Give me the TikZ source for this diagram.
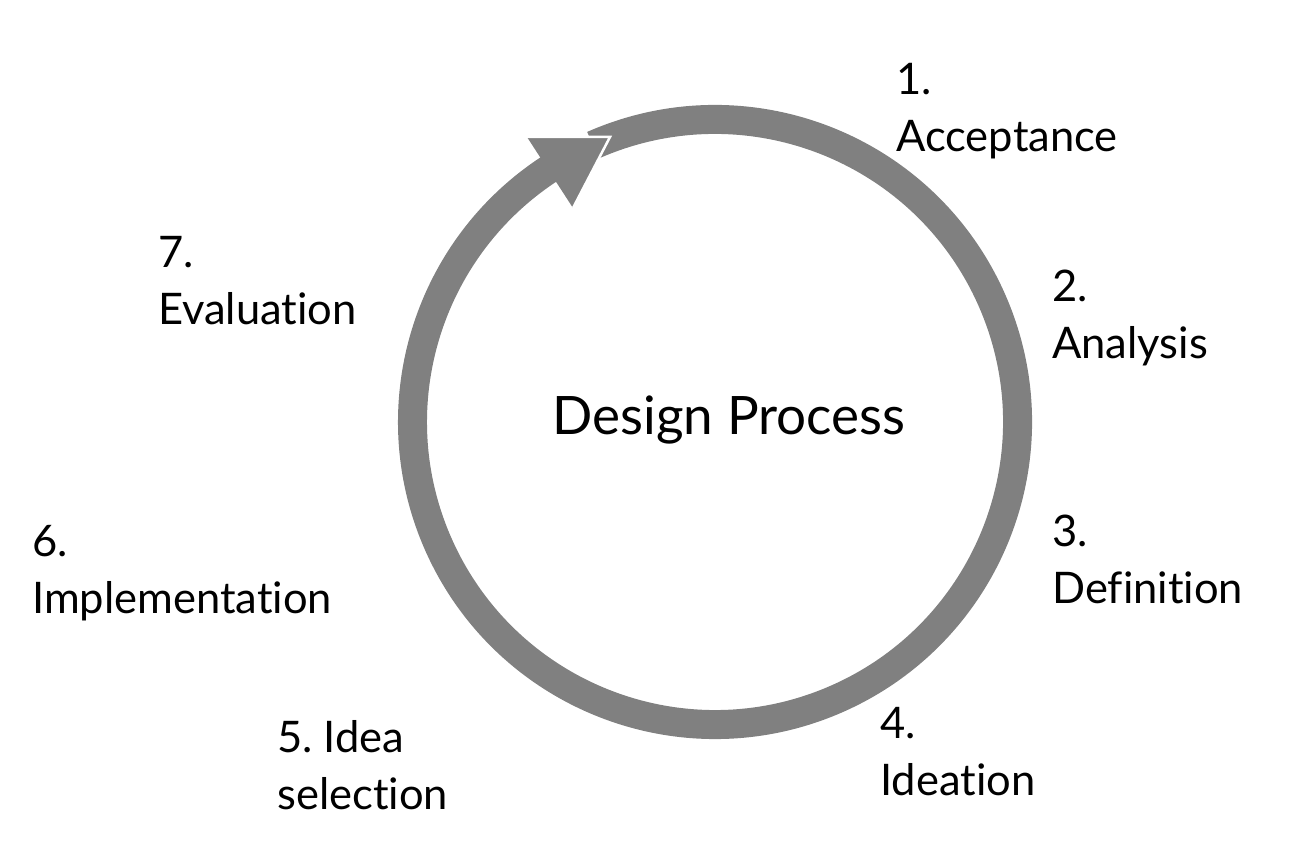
\documentclass[tikz,border=0pt]{standalone}
\usepackage{fontspec}
\setmainfont{Lato}[Ligatures=NoCommon]
\usetikzlibrary{calc}
\definecolor{ringgray}{HTML}{808080}
\begin{document}
\begin{tikzpicture}[x=1pt,y=1pt,
  lbl/.style={anchor=base west, inner sep=0pt, font=\fontsize{43.5}{57}\selectfont},
  ring/.style={draw=ringgray, line width=29pt, line cap=butt}]
\useasboundingbox (0,0) rectangle (1290,861);
\coordinate (C) at (715,439);
% shaft of the circular arrow
\draw[ring] ($(C)+(113.8:302.5)$) arc[start angle=113.8, end angle=-237.5, radius=302.5];
% arrow head
\coordinate (A1) at (527,724);
\coordinate (T) at (610,724);
\coordinate (A2) at (573,653);
\fill[ringgray] (A1) -- (T) -- (A2) -- cycle;
\draw[white, line width=2.5pt, line join=miter] (A1) -- (T) -- (A2);
% centre text
\node[anchor=base, inner sep=0pt, font=\fontsize{53}{60}\selectfont] (title) at (729,426) {Design Process};
% step labels
\node[lbl] (s1) at (896,766) {\begin{tabular}[t]{@{}l@{}}1.\\Acceptance\end{tabular}};
\node[lbl] (s2) at (1052,559) {\begin{tabular}[t]{@{}l@{}}2.\\Analysis\end{tabular}};
\node[lbl] (s3) at (1052,314) {\begin{tabular}[t]{@{}l@{}}3.\\Definition\end{tabular}};
\node[lbl] (s4) at (880,122) {\begin{tabular}[t]{@{}l@{}}4.\\Ideation\end{tabular}};
\node[lbl] (s5) at (277,108) {\begin{tabular}[t]{@{}l@{}}5.~Idea\\selection\end{tabular}};
\node[lbl] (s6) at (32,304) {\begin{tabular}[t]{@{}l@{}}6.\\Implementation\end{tabular}};
\node[lbl] (s7) at (158,593) {\begin{tabular}[t]{@{}l@{}}7.\\Evaluation\end{tabular}};
\end{tikzpicture}
\end{document}
